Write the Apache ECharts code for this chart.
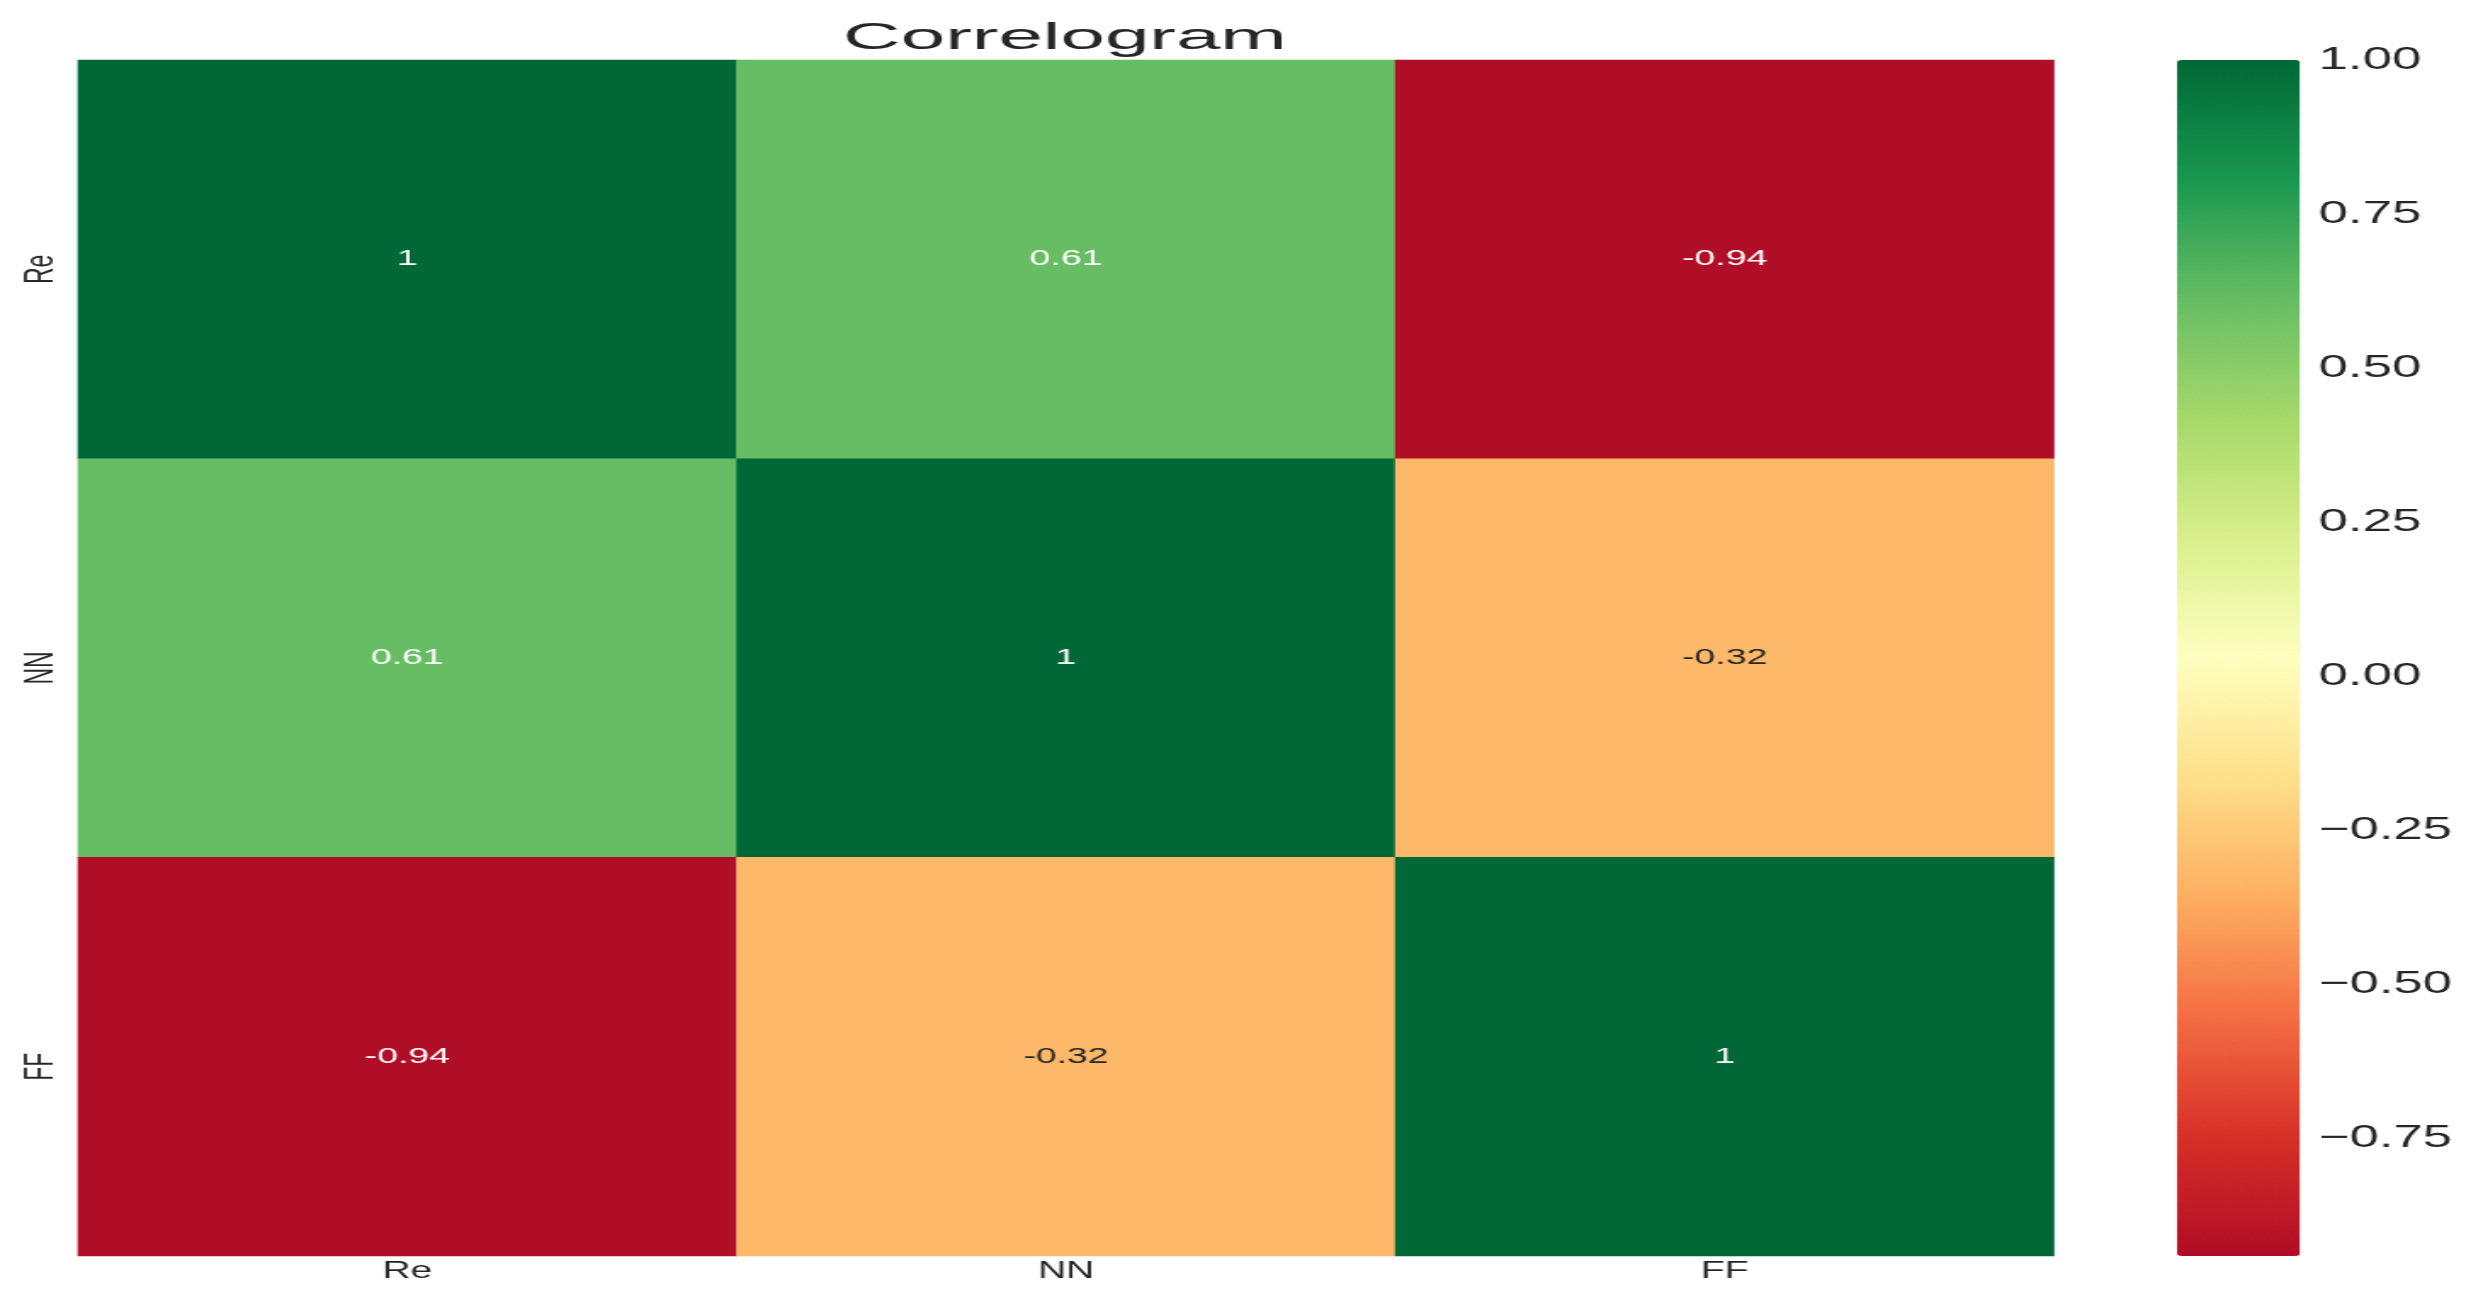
<!DOCTYPE html>
<html>
<head>
<meta charset="utf-8">
<script src="https://cdn.jsdelivr.net/npm/echarts@6/dist/echarts.min.js"></script>
<style>
  html, body { margin: 0; padding: 0; background: #ffffff; overflow: hidden; }
  #chart { width: 1461px; height: 1303px; transform: scaleX(1.6995); transform-origin: 0 0; }
</style>
</head>
<body>
<div id="chart"></div>
<script>
// ---- data ----
const categories = ['Re', 'NN', 'FF'];
const corrRe = [1, 0.61, -0.94];
const corrNN = [0.61, 1, -0.32];
const corrFF = [-0.94, -0.32, 1];
const colorbarTicks = [1, 0.75, 0.5, 0.25, 0, -0.25, -0.5, -0.75];
const colorMin = -0.94;
const colorMax = 1;

// ---- layout (page is drawn narrow and stretched horizontally like the reference) ----
const S = 2483 / 1461;
const px = v => v / S;
const TXT = '#262626';
const FONT = '"Liberation Sans", Arial, sans-serif';

const matrix = [corrRe, corrNN, corrFF];
function fmt(v) { return String(Number(v.toPrecision(2))); }
const heatData = [];
matrix.forEach((row, i) => {
  row.forEach((v, j) => {
    const light = v > -0.6 && v < 0.45;
    heatData.push({
      value: [j, i, v],
      label: { color: light ? TXT : '#ffffff' }
    });
  });
});

const chart = echarts.init(document.getElementById('chart'), null, { renderer: 'canvas' });
const option = {
  backgroundColor: '#ffffff',
  animation: false,
  graphic: [{
    type: 'text',
    x: px(1065),
    y: 39,
    scaleX: 1.27,
    style: {
      text: 'Correlogram',
      fill: TXT,
      font: '37px ' + FONT,
      align: 'center',
      verticalAlign: 'middle'
    }
  }],
  grid: [
    { left: px(78), top: 60, width: px(2054 - 78), height: 1196 },
    { left: px(2177), top: 60, width: px(2300 - 2177), height: 1196 }
  ],
  xAxis: [
    {
      type: 'category', data: categories, gridIndex: 0,
      axisLine: { show: false }, axisTick: { show: false }, splitLine: { show: false },
      axisLabel: { color: TXT, fontSize: 23, fontFamily: FONT, margin: 4, interval: 0 }
    },
    { type: 'value', gridIndex: 1, show: false, min: 0, max: 1 }
  ],
  yAxis: [
    {
      type: 'category', data: categories, gridIndex: 0, inverse: true,
      axisLine: { show: false }, axisTick: { show: false }, splitLine: { show: false },
      axisLabel: { color: TXT, fontSize: 23, fontFamily: FONT, margin: 10, rotate: 90, interval: 0, padding: [0, 20, 0, 0] }
    },
    {
      type: 'value', gridIndex: 1, position: 'right', min: colorMin, max: colorMax,
      axisLine: { show: false }, axisTick: { show: false }, splitLine: { show: false },
      axisLabel: {
        color: TXT, fontSize: 31, fontFamily: FONT, margin: 11,
        padding: [4, 0, 0, 0],
        customValues: colorbarTicks,
        formatter: v => (v < 0 ? '\u2212' : '') + Math.abs(v).toFixed(2)
      }
    }
  ],
  visualMap: {
    type: 'continuous',
    min: colorMin, max: colorMax,
    calculable: false,
    hoverLink: false,
    orient: 'vertical',
    left: px(2177), top: 60,
    itemWidth: px(2300 - 2177), itemHeight: 1196,
    padding: 0,
    borderRadius: 0,
    text: null,
    showLabel: false,
    seriesIndex: 0,
    inRange: {
      color: ['#b00d26', '#d73027', '#f46d43', '#fdae61', '#fee08b', '#ffffbf',
              '#d9ef8b', '#a6d96a', '#66bd63', '#1a9850', '#006837']
    }
  },
  series: [{
    type: 'heatmap',
    xAxisIndex: 0, yAxisIndex: 0,
    data: heatData,
    label: { show: true, fontSize: 22, fontFamily: FONT, formatter: p => fmt(p.value[2]) },
    emphasis: { disabled: true },
    itemStyle: { borderWidth: 0 }
  }]
};
chart.setOption(option);
</script>
</body>
</html>
